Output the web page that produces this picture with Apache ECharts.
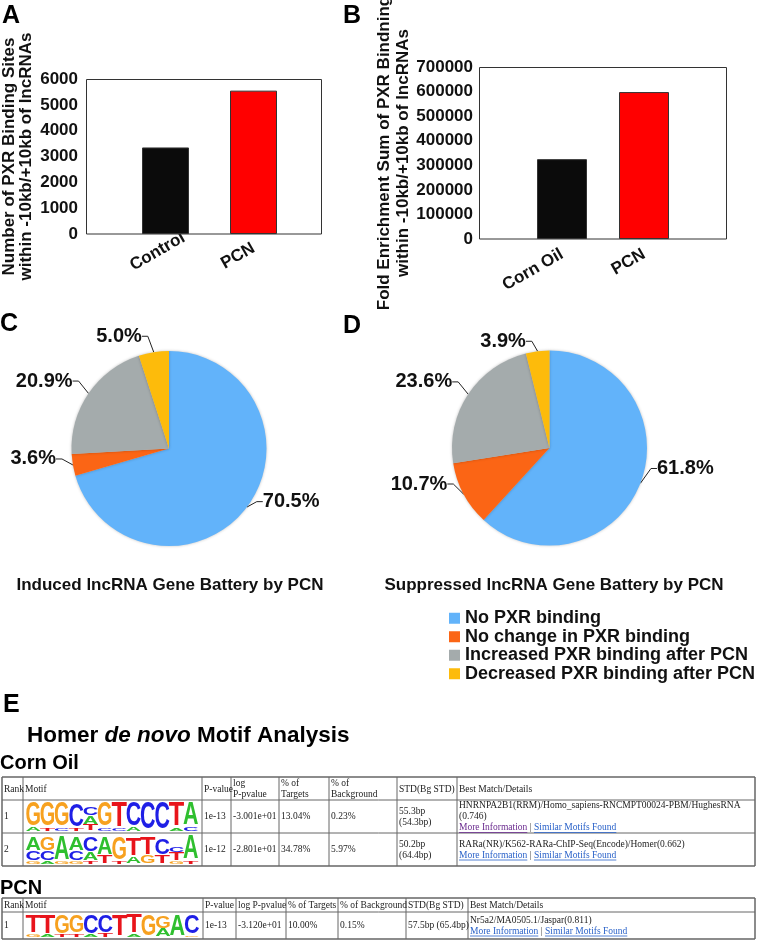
<!DOCTYPE html>
<html><head><meta charset="utf-8">
<script src="https://cdn.jsdelivr.net/npm/echarts@6/dist/echarts.min.js"></script>
<style>html,body{margin:0;padding:0;background:#fff}#c{width:758px;height:945px}</style>
</head><body><div id="c"></div>
<script>
// ---------------- DATA ----------------
const catsA = ['Control', 'PCN'];
const valsA = [3350, 5550];
const catsB = ['Corn Oil', 'PCN'];
const valsB = [325000, 598000];
const barColors = ['#0b0b0b', '#ff0000'];

const pieNames = ['No PXR binding', 'No change in PXR binding', 'Increased PXR binding after PCN', 'Decreased PXR binding after PCN'];
const pieColors = ['#62b3fa', '#fb6515', '#a4abac', '#fdbb0b'];
const pieInduced = [70.5, 3.6, 20.9, 5.0];
const pieSuppressed = [61.8, 10.7, 23.6, 3.9];

const headerCorn = ['Rank', 'Motif', 'P-value', 'log\nP-pvalue', '% of\nTargets', '% of\nBackground', 'STD(Bg STD)', 'Best Match/Details'];
const rowsCorn = [
  ['1', '', '1e-13', '-3.001e+01', '13.04%', '0.23%', '55.3bp\n(54.3bp)'],
  ['2', '', '1e-12', '-2.801e+01', '34.78%', '5.97%', '50.2bp\n(64.4bp)']
];
const bestCorn = [
  ['HNRNPA2B1(RRM)/Homo_sapiens-RNCMPT00024-PBM/HughesRNA', '(0.746)'],
  ['RARa(NR)/K562-RARa-ChIP-Seq(Encode)/Homer(0.662)']
];
const headerPCN = ['Rank', 'Motif', 'P-value', 'log P-pvalue', '% of Targets', '% of Background', 'STD(Bg STD)', 'Best Match/Details'];
const rowsPCN = [['1', '', '1e-13', '-3.120e+01', '10.00%', '0.15%', '57.5bp (65.4bp)']];
const bestPCN = [['Nr5a2/MA0505.1/Jaspar(0.811)']];

// sequence logos: per position, letters bottom->top with relative heights
const logoCorn1 = [
  [['A', .12], ['G', .83]], [['T', .1], ['G', .85]], [['C', .1], ['G', .85]], [['T', .1], ['C', .82]],
  [['T', .22], ['A', .3], ['C', .3]], [['C', .1], ['G', .85]], [['C', .08], ['T', .88]], [['A', .12], ['C', .83]],
  [['C', .95]], [['C', .95]], [['A', .1], ['T', .85]], [['C', .15], ['A', .8]]
];
const logoCorn2 = [
  [['G', .1], ['C', .35], ['A', .45]], [['A', .1], ['C', .35], ['G', .45]], [['G', .08], ['A', .85]], [['G', .1], ['C', .35], ['A', .45]],
  [['T', .1], ['A', .3], ['C', .5]], [['T', .3], ['A', .6]], [['T', .1], ['G', .8]], [['A', .25], ['T', .6]],
  [['G', .3], ['T', .6]], [['T', .3], ['C', .55]], [['G', .1], ['T', .3], ['C', .2]], [['T', .1], ['A', .85]]
];
const logoPCN1 = [
  [['G', .12], ['T', .8]], [['A', .1], ['T', .85]], [['T', .1], ['G', .85]], [['T', .12], ['G', .8]],
  [['A', .1], ['C', .85]], [['T', .15], ['C', .8]], [['T', .95]], [['A', .12], ['T', .82]],
  [['G', .95]], [['A', .35], ['G', .55]], [['A', .95]], [['G', .08], ['C', .85]]
];
const nucColor = { A: '#2fbf2f', C: '#1f1fe6', G: '#f7a11f', T: '#e8141b' };
const nucAdv = { A: .722, C: .722, G: .778, T: .611 };

// label vertical nudges (style only)
const pieLabelDyInduced = [-9, -7, -9, -10];
const pieLabelDySuppressed = [-17, -13, -9, -4];

// ---------------- HELPERS ----------------
const SANS = '"Liberation Sans", Arial, Helvetica, sans-serif';
const SERIF = '"Liberation Serif", "Times New Roman", serif';
const G = [];
function txt(x, y, text, st) {
  G.push({ type: 'text', x: x, y: y, silent: true, z: 10,
    style: Object.assign({ text: text, fill: '#111', fontFamily: SANS, fontSize: 12,
      align: 'left', verticalAlign: 'middle', textAlign: 'left', textVerticalAlign: 'middle' }, st) });
}
function line(x1, y1, x2, y2, stroke, w) {
  G.push({ type: 'line', silent: true, z: 5, shape: { x1: x1, y1: y1, x2: x2, y2: y2 }, style: { stroke: stroke || '#555', lineWidth: w || 1 } });
}
const mctx = document.createElement('canvas').getContext('2d');
function measure(t, font) { mctx.font = font; return mctx.measureText(t).width; }

function logo(motif, x0, x1, yBottom, H) {
  const w = (x1 - x0) / motif.length;
  const f = 20;
  motif.forEach((pos, i) => {
    let y = yBottom;
    const cx = x0 + w * (i + .5);
    pos.forEach(([L, fr]) => {
      const h = fr * H;
      G.push({ type: 'text', silent: true, z: 10, x: cx, y: y - h / 2,
        scaleX: (w * 1.08) / (nucAdv[L] * f), scaleY: h / (0.716 * f),
        style: { text: L, fill: nucColor[L], fontFamily: SANS, fontWeight: 'bold', fontSize: f,
          align: 'center', verticalAlign: 'middle', textAlign: 'center', textVerticalAlign: 'middle' } });
      y -= h;
    });
  });
}

function table(cols, rows, header, data, best, logos, opts) {
  const x0 = cols[0], x1 = cols[cols.length - 1];
  rows.forEach((ry, i) => line(x0, ry, x1, ry, '#666', (i === 0 || i === rows.length - 1) ? 1.5 : 1));
  cols.forEach((cx, i) => line(cx, rows[0], cx, rows[rows.length - 1], '#666', (i === 0 || i === cols.length - 1) ? 1.5 : 1));
  const fs = 9.5;
  header.forEach((h, i) => {
    txt(cols[i] + 2, (rows[0] + rows[1]) / 2 + 0.5, h, { fontFamily: SERIF, fontSize: fs, fill: '#222', lineHeight: 11 });
  });
  data.forEach((r, ri) => {
    const yt = rows[ri + 1], yb = rows[ri + 2], ym = (yt + yb) / 2;
    r.forEach((c, ci) => { if (c) txt(cols[ci] + 2, ym, c, { fontFamily: SERIF, fontSize: fs, fill: '#222', lineHeight: 11 }); });
    logo(logos[ri], cols[1] + 3, cols[2] - 4, yb - 2, yb - yt - 5);
    const bx = cols[7] + 2;
    const lines = best[ri];
    const lh = 11;
    const n = lines.length + 1;
    let y = ym - (n - 1) * lh / 2;
    lines.forEach(l => { txt(bx, y, l, { fontFamily: SERIF, fontSize: fs, fill: '#222' }); y += lh; });
    const font = fs + 'px ' + SERIF;
    const t1 = 'More Information', t2 = ' | ', t3 = 'Similar Motifs Found';
    const w1 = measure(t1, font), w2 = measure(t2, font), w3 = measure(t3, font);
    const c1 = (opts.visited && ri === 0) ? '#6a2a8e' : '#2a62c9';
    txt(bx, y, t1, { fontFamily: SERIF, fontSize: fs, fill: c1 });
    line(bx, y + 5, bx + w1, y + 5, c1, 0.8);
    txt(bx + w1, y, t2, { fontFamily: SERIF, fontSize: fs, fill: '#444' });
    txt(bx + w1 + w2, y, t3, { fontFamily: SERIF, fontSize: fs, fill: '#2a62c9' });
    line(bx + w1 + w2, y + 5, bx + w1 + w2 + w3, y + 5, '#2a62c9', 0.8);
  });
}

// ---------------- STATIC TEXT / FRAMES ----------------
const LET = { fontSize: 25, fontWeight: 'bold', fill: '#000' };
txt(2, 16, 'A', LET); txt(343, 16, 'B', LET); txt(0, 324, 'C', LET); txt(343, 326, 'D', LET); txt(3, 705, 'E', LET);

G.push({ type: 'rect', silent: true, z: 1, shape: { x: 86.5, y: 79.5, width: 235, height: 154.5 }, style: { fill: null, stroke: '#333', lineWidth: 1 } });
G.push({ type: 'rect', silent: true, z: 1, shape: { x: 479.5, y: 67.5, width: 247, height: 171.5 }, style: { fill: null, stroke: '#333', lineWidth: 1 } });

txt(170, 585, 'Induced lncRNA Gene Battery by PCN', { fontSize: 17, fontWeight: 'bold', align: 'center', textAlign: 'center' });
txt(554, 585, 'Suppressed lncRNA Gene Battery by PCN', { fontSize: 17, fontWeight: 'bold', align: 'center', textAlign: 'center' });

G.push({ type: 'text', x: 27, y: 736, silent: true, z: 10,
  style: { text: '{n|Homer }{i|de novo}{n| Motif Analysis}', fill: '#000', align: 'left', verticalAlign: 'middle', textAlign: 'left', textVerticalAlign: 'middle',
    rich: { n: { fontFamily: SANS, fontSize: 22.5, fontWeight: 'bold', fill: '#000' }, i: { fontFamily: SANS, fontSize: 22.5, fontWeight: 'bold', fontStyle: 'italic', fill: '#000' } } } });
txt(0, 763, 'Corn Oil', { fontSize: 20, fontWeight: 'bold', fill: '#000' });
txt(0, 888, 'PCN', { fontSize: 20, fontWeight: 'bold', fill: '#000' });

table([2, 23, 202, 231, 279, 329, 397, 457, 755], [777, 800, 833, 866], headerCorn, rowsCorn, bestCorn, [logoCorn1, logoCorn2], { visited: true });
table([2, 23, 203, 236, 286, 338, 406, 468, 755], [898, 912, 939], headerPCN, rowsPCN, bestPCN, [logoPCN1], { visited: false });

// ---------------- CHART ----------------
const chart = echarts.init(document.getElementById('c'), null, { renderer: 'canvas' });
const axisLbl = { fontSize: 17, fontWeight: 'bold', color: '#111', fontFamily: SANS };
const pieLabel = { show: true, position: 'outside', fontSize: 20, fontWeight: 'bold', color: '#111', fontFamily: SANS,
  formatter: p => p.value.toFixed(1) + '%' };
function pieData(vals) { return pieNames.map((n, i) => ({ name: n, value: vals[i], itemStyle: { color: pieColors[i] } })); }
function nudge(dys) {
  return p => ({ y: p.labelRect.y + p.labelRect.height / 2 + dys[p.dataIndex], verticalAlign: 'middle' });
}
// first category label of panel A sits a little further along its baseline in the original
const catsAAxis = catsA.map((c, i) => i === 0 ? { value: c, textStyle: { padding: [0, -21, 0, 0] } } : c);

chart.setOption({
  animation: false,
  backgroundColor: '#fff',
  textStyle: { fontFamily: SANS },
  grid: [
    { left: 121.5, top: 79, width: 176, height: 155, containLabel: false, outerBoundsMode: 'none' },
    { left: 521, top: 67, width: 164, height: 172, containLabel: false, outerBoundsMode: 'none' }
  ],
  xAxis: [
    { gridIndex: 0, type: 'category', data: catsAAxis, axisLine: { show: false }, axisTick: { show: false },
      axisLabel: Object.assign({ rotate: 30, margin: 13, interval: 0 }, axisLbl) },
    { gridIndex: 1, type: 'category', data: catsB, axisLine: { show: false }, axisTick: { show: false },
      axisLabel: Object.assign({ rotate: 30, margin: 14, interval: 0 }, axisLbl) }
  ],
  yAxis: [
    { gridIndex: 0, type: 'value', min: 0, max: 6000, interval: 1000, offset: 35.5,
      axisLine: { show: false }, axisTick: { show: false }, splitLine: { show: false },
      axisLabel: Object.assign({ margin: 8, formatter: v => String(v) }, axisLbl),
      name: 'Number of PXR Binding Sites\nwithin -10kb/+10kb of lncRNAs', nameLocation: 'middle', nameRotate: 90, nameGap: 51,
      nameTextStyle: { fontSize: 17, fontWeight: 'bold', color: '#111', lineHeight: 17, fontFamily: SANS } },
    { gridIndex: 1, type: 'value', min: 0, max: 700000, interval: 100000, offset: 42,
      axisLine: { show: false }, axisTick: { show: false }, splitLine: { show: false },
      axisLabel: Object.assign({ margin: 6, formatter: v => String(v) }, axisLbl),
      name: 'Fold Enrichment Sum of PXR Bindning\nwithin -10kb/+10kb of lncRNAs', nameLocation: 'middle', nameRotate: 90, nameGap: 65,
      nameTextStyle: { fontSize: 17, fontWeight: 'bold', color: '#111', lineHeight: 19, fontFamily: SANS } }
  ],
  legend: {
    data: pieNames, orient: 'vertical', left: 449, top: 609, itemWidth: 11, itemHeight: 11, itemGap: 0, icon: 'rect',
    selectedMode: false, padding: 0,
    textStyle: { fontSize: 18, fontWeight: 'bold', color: '#111', lineHeight: 18.5, fontFamily: SANS }
  },
  series: [
    { type: 'bar', xAxisIndex: 0, yAxisIndex: 0, barWidth: 47,
      data: valsA.map((v, i) => ({ value: v, itemStyle: { color: barColors[i] } })),
      itemStyle: { borderColor: '#333', borderWidth: 1 }, silent: true },
    { type: 'bar', xAxisIndex: 1, yAxisIndex: 1, barWidth: 50,
      data: valsB.map((v, i) => ({ value: v, itemStyle: { color: barColors[i] } })),
      itemStyle: { borderColor: '#333', borderWidth: 1 }, silent: true },
    { type: 'pie', center: [169, 448.5], radius: 97.5, startAngle: 90, clockwise: true, silent: true,
      data: pieData(pieInduced), label: pieLabel,
      labelLayout: nudge(pieLabelDyInduced),
      labelLine: { show: true, length: 6, length2: 6, lineStyle: { color: '#222', width: 1 } },
      itemStyle: { borderWidth: 0, shadowBlur: 3, shadowColor: 'rgba(0,0,0,0.25)' } },
    { type: 'pie', center: [549.5, 448], radius: 97.5, startAngle: 90, clockwise: true, silent: true,
      data: pieData(pieSuppressed), label: pieLabel,
      labelLayout: nudge(pieLabelDySuppressed),
      labelLine: { show: true, length: 6, length2: 6, lineStyle: { color: '#222', width: 1 } },
      itemStyle: { borderWidth: 0, shadowBlur: 3, shadowColor: 'rgba(0,0,0,0.25)' } }
  ],
  graphic: { elements: G }
});
</script></body></html>
